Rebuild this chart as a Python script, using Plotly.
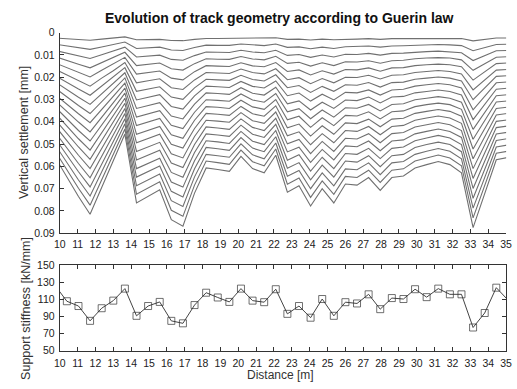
import plotly.graph_objects as go

# Sleeper positions along the track [m]
sleeper_x = [9.75, 10.4, 11.05, 11.7, 12.35, 13.0, 13.65, 14.3, 14.95, 15.6,
             16.25, 16.9, 17.55, 18.2, 18.85, 19.5, 20.15, 20.8, 21.45, 22.1,
             22.75, 23.4, 24.05, 24.7, 25.35, 26.0, 26.65, 27.3, 27.95, 28.6,
             29.25, 29.9, 30.55, 31.2, 31.85, 32.5, 33.15, 33.8, 34.45, 35.1]

# Support stiffness at each sleeper [kN/mm]
stiffness = [126, 107.8, 102.2, 84.8, 99.6, 108.5, 122.6, 90.7, 102.2, 107,
             84.8, 81.9, 103.3, 117.8, 112.2, 107, 122.6, 108.5, 106.7, 121.9,
             93, 102.2, 88.5, 110.4, 90.7, 106.7, 105.2, 115.9, 98.5, 111.5,
             110.4, 121.9, 112.6, 122.6, 115.9, 115.9, 77, 94, 123.7, 109.3]

# Settlement profiles (one row per curve), in units of 0.1 micrometre
settlement_01um = [
    [24, 27, 31, 34, 29, 24, 19, 32, 31, 30, 35, 36, 30, 26, 26, 26, 23, 26, 26, 23, 30, 29, 33, 29, 32, 29, 29, 27, 30, 27, 27, 26, 25, 24, 25, 26, 37, 30, 24, 24],
    [52, 60, 68, 75, 64, 54, 42, 71, 68, 65, 78, 80, 67, 56, 57, 57, 51, 56, 58, 51, 66, 64, 72, 65, 71, 63, 63, 60, 65, 60, 59, 56, 55, 53, 55, 58, 81, 67, 53, 52],
    [80, 93, 105, 116, 99, 83, 65, 109, 105, 101, 120, 124, 103, 87, 88, 89, 79, 87, 90, 79, 102, 98, 111, 100, 109, 97, 98, 93, 101, 93, 92, 87, 85, 83, 85, 90, 125, 103, 81, 80],
    [108, 126, 142, 158, 134, 112, 88, 148, 142, 136, 162, 168, 139, 117, 119, 120, 107, 118, 122, 106, 138, 133, 150, 135, 148, 131, 132, 126, 137, 126, 124, 117, 114, 112, 114, 122, 169, 139, 110, 108],
    [136, 158, 179, 199, 169, 141, 111, 186, 179, 172, 204, 212, 175, 148, 150, 152, 135, 149, 153, 134, 174, 167, 190, 171, 186, 165, 167, 158, 173, 158, 157, 148, 144, 141, 144, 153, 213, 175, 139, 136],
    [165, 191, 216, 240, 204, 171, 134, 225, 216, 207, 247, 255, 212, 179, 181, 183, 163, 179, 185, 162, 211, 202, 229, 206, 225, 200, 201, 191, 208, 191, 189, 179, 174, 170, 174, 185, 257, 212, 168, 165],
    [193, 224, 253, 281, 239, 200, 157, 263, 253, 243, 289, 299, 248, 209, 212, 214, 191, 210, 217, 189, 247, 237, 268, 241, 263, 234, 236, 224, 244, 224, 222, 209, 204, 199, 204, 217, 301, 248, 196, 193],
    [221, 257, 290, 322, 274, 229, 180, 302, 290, 278, 331, 343, 284, 240, 243, 246, 219, 241, 248, 217, 283, 271, 307, 276, 302, 268, 270, 257, 280, 257, 254, 240, 234, 228, 234, 248, 346, 284, 225, 221],
    [249, 289, 327, 363, 310, 258, 203, 340, 327, 314, 374, 387, 321, 270, 273, 277, 247, 272, 280, 245, 319, 306, 347, 312, 340, 302, 305, 289, 315, 289, 286, 270, 264, 257, 264, 280, 390, 321, 254, 249],
    [278, 322, 364, 404, 345, 288, 226, 379, 364, 350, 416, 430, 357, 301, 304, 308, 275, 302, 312, 273, 355, 341, 386, 347, 379, 337, 339, 322, 351, 322, 319, 301, 294, 287, 294, 312, 434, 357, 283, 278],
    [306, 355, 401, 445, 380, 317, 249, 417, 401, 385, 458, 474, 393, 332, 335, 340, 303, 333, 344, 300, 391, 375, 425, 382, 417, 371, 374, 355, 387, 355, 351, 332, 323, 316, 323, 344, 478, 393, 311, 306],
    [334, 388, 439, 486, 415, 346, 271, 456, 439, 421, 501, 518, 430, 362, 366, 371, 331, 364, 375, 328, 427, 410, 464, 418, 456, 405, 408, 388, 422, 388, 384, 362, 353, 345, 353, 375, 522, 430, 340, 334],
    [362, 421, 476, 527, 450, 375, 294, 494, 476, 456, 543, 562, 466, 393, 397, 402, 359, 395, 407, 356, 463, 445, 503, 453, 494, 439, 443, 421, 458, 421, 416, 393, 383, 374, 383, 407, 566, 466, 369, 362],
    [391, 453, 513, 568, 485, 405, 317, 533, 513, 492, 585, 605, 502, 423, 428, 434, 387, 425, 439, 384, 499, 479, 543, 488, 533, 474, 477, 453, 494, 453, 448, 423, 413, 403, 413, 439, 610, 502, 398, 391],
    [419, 486, 550, 610, 520, 434, 340, 571, 550, 527, 627, 649, 538, 454, 459, 465, 415, 456, 470, 411, 535, 514, 582, 524, 571, 508, 512, 486, 530, 486, 481, 454, 443, 432, 443, 470, 654, 538, 426, 419],
    [447, 519, 587, 651, 555, 463, 363, 610, 587, 563, 670, 693, 575, 485, 490, 497, 443, 487, 502, 439, 572, 548, 621, 559, 610, 542, 546, 519, 565, 519, 513, 485, 473, 461, 473, 502, 699, 575, 455, 447],
    [475, 552, 624, 692, 590, 492, 386, 648, 624, 598, 712, 737, 611, 515, 521, 528, 471, 518, 534, 467, 608, 583, 660, 594, 648, 576, 581, 552, 601, 552, 546, 515, 502, 491, 502, 534, 743, 611, 484, 475],
    [504, 584, 661, 733, 625, 522, 409, 687, 661, 634, 754, 780, 647, 546, 552, 559, 499, 548, 566, 495, 644, 618, 700, 629, 687, 611, 615, 584, 637, 584, 578, 546, 532, 520, 532, 566, 787, 647, 513, 504],
    [532, 617, 698, 774, 660, 551, 432, 725, 698, 669, 797, 824, 684, 576, 583, 591, 527, 579, 597, 522, 680, 652, 739, 665, 725, 645, 650, 617, 672, 617, 611, 576, 562, 549, 562, 597, 831, 684, 541, 532],
    [560, 650, 735, 815, 695, 580, 455, 764, 735, 705, 839, 868, 720, 607, 614, 622, 555, 610, 629, 550, 716, 687, 778, 700, 764, 679, 684, 650, 708, 650, 643, 607, 592, 578, 592, 629, 875, 720, 570, 560],
]

x_ticks = list(range(10, 36))
settle_ticks = [0, 0.01, 0.02, 0.03, 0.04, 0.05, 0.06, 0.07, 0.08, 0.09]
settle_labels = ["0", "0.01", "0.02", "0.03", "0.04", "0.05", "0.06", "0.07", "0.08", "0.09"]
stiff_ticks = [50, 70, 90, 110, 130, 150]

W, H = 517, 389
FAM = "Liberation Sans, Arial, sans-serif"
TICKFONT = dict(family=FAM, size=10.5, color="#222")
AXCOL = "#333"

fig = go.Figure()
for row in settlement_01um:
    fig.add_trace(go.Scatter(
        x=sleeper_x, y=[v / 10000.0 for v in row], mode="lines",
        line=dict(color="#707070", width=1.1), xaxis="x", yaxis="y",
        showlegend=False, hoverinfo="skip"))

marker_sizes = [0] + [7] * (len(sleeper_x) - 2) + [0]
fig.add_trace(go.Scatter(
    x=sleeper_x, y=stiffness, mode="lines+markers",
    line=dict(color="#444", width=1),
    marker=dict(symbol="square-open", size=marker_sizes, color="#333",
                line=dict(width=1, color="#333")),
    xaxis="x2", yaxis="y2", showlegend=False))

xdom = [55 / W, 512 / W]
common_x = dict(range=[10, 35], tickvals=x_ticks, ticks="inside", ticklen=4,
                tickcolor=AXCOL, showline=True, linecolor=AXCOL, linewidth=1,
                showgrid=False, zeroline=False, tickfont=TICKFONT, domain=xdom,
                ticklabeloverflow="allow")
common_y = dict(ticks="inside", ticklen=4, tickcolor=AXCOL, showline=True,
                linecolor=AXCOL, linewidth=1, showgrid=False, zeroline=False,
                tickfont=TICKFONT, ticklabelstandoff=2)

fig.update_layout(
    width=W, height=H,
    margin=dict(l=0, r=0, t=0, b=0),
    paper_bgcolor="white", plot_bgcolor="white",
    xaxis=dict(common_x, anchor="y", ticklabelstandoff=1),
    yaxis=dict(common_y, anchor="x", range=[0.09, 0], tickvals=settle_ticks,
               ticktext=settle_labels,
               domain=[1 - 234.5 / H, 1 - 27.5 / H]),
    xaxis2=dict(common_x, anchor="y2", mirror="ticks", ticklabelstandoff=3),
    yaxis2=dict(common_y, anchor="x2", range=[50, 150], tickvals=stiff_ticks,
                mirror="ticks", domain=[1 - 355.5 / H, 1 - 267.5 / H]),
    annotations=[
        dict(text="<b>Evolution of track geometry according to Guerin law</b>",
             x=280 / W, y=1 - 12 / H, xref="paper", yref="paper",
             xanchor="center", yanchor="middle", showarrow=False,
             font=dict(family=FAM, size=14, color="#111")),
        dict(text="Vertical settlement [mm]", textangle=-90,
             x=19 / W, y=1 - 130.5 / H, xref="paper", yref="paper",
             xanchor="center", yanchor="middle", showarrow=False,
             font=dict(family=FAM, size=12.5, color="#333")),
        dict(text="Support stiffness [kN/mm]", textangle=-90,
             x=21 / W, y=1 - 312 / H, xref="paper", yref="paper",
             xanchor="center", yanchor="middle", showarrow=False,
             font=dict(family=FAM, size=12.5, color="#333")),
        dict(text="Distance [m]",
             x=281 / W, y=0, xref="paper", yref="paper",
             xanchor="center", yanchor="bottom", showarrow=False, borderpad=0,
             font=dict(family=FAM, size=12, color="#333")),
    ],
)

fig.write_html("out.html")
